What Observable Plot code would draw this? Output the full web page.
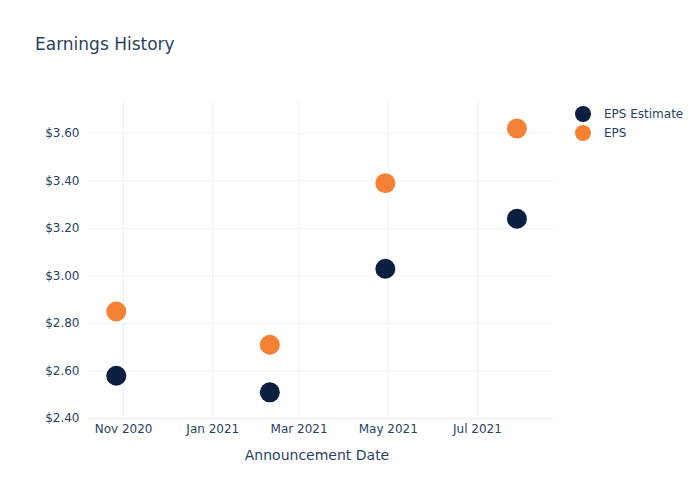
<!DOCTYPE html>
<html>
<head>
<meta charset="utf-8">
<script src="https://cdn.jsdelivr.net/npm/d3@7"></script>
<script src="https://cdn.jsdelivr.net/npm/@observablehq/plot@0.6"></script>
<style>
  html, body { margin: 0; padding: 0; background: #fff; }
  #wrap { position: relative; width: 700px; height: 500px; font-family: "DejaVu Sans", sans-serif; color: #2a3f5f; }
  #title { position: absolute; left: 35px; top: 33px; font-size: 17px; line-height: 22px; white-space: nowrap; }
  .leg { position: absolute; left: 575px; height: 16px; display: flex; align-items: center; font-size: 12px; white-space: nowrap; }
  .leg .sw { width: 16px; height: 16px; border-radius: 50%; margin-right: 13px; }
  #chart { position: absolute; left: 0; top: 0; }
</style>
</head>
<body>
<div id="wrap">
  <div id="chart"></div>
  <div id="title">Earnings History</div>
  <div id="legend"></div>
</div>
<script>
const announcementDates = ["2020-10-27", "2021-02-09", "2021-04-29", "2021-07-28"];
const epsEstimate = [2.58, 2.51, 3.03, 3.24];
const epsActual = [2.85, 2.71, 3.39, 3.62];
const seriesNames = ["EPS Estimate", "EPS"];
const seriesColors = ["#0b1f41", "#f58134"];
const xTickDates = ["2020-11-01", "2021-01-01", "2021-03-01", "2021-05-01", "2021-07-01"];
const yTickValues = [2.4, 2.6, 2.8, 3.0, 3.2, 3.4, 3.6];

const parse = d3.utcParse("%Y-%m-%d");
const xTicks = xTickDates.map(parse);
const rows = [];
announcementDates.forEach((d, i) => {
  rows.push({date: parse(d), value: epsEstimate[i], series: seriesNames[0]});
});
announcementDates.forEach((d, i) => {
  rows.push({date: parse(d), value: epsActual[i], series: seriesNames[1]});
});
const colorOf = Object.fromEntries(seriesNames.map((s, i) => [s, seriesColors[i]]));

const plot = Plot.plot({
  width: 700,
  height: 500,
  marginLeft: 88,
  marginRight: 147,
  marginTop: 100,
  marginBottom: 82,
  style: {fontFamily: "DejaVu Sans, sans-serif", fontSize: "12px", color: "#2a3f5f", background: "transparent"},
  x: {
    type: "utc",
    domain: [parse("2020-10-08"), parse("2021-08-22")],
    label: null
  },
  y: {
    domain: [2.4, 3.7376],
    label: null
  },
  marks: [
    Plot.gridX(xTicks, {stroke: "#ebf0f8", strokeOpacity: 1, strokeWidth: 1}),
    Plot.gridY(yTickValues, {stroke: "#ebf0f8", strokeOpacity: 1, strokeWidth: 1}),
    Plot.axisX({ticks: xTicks, tickFormat: d3.utcFormat("%b %Y"), tickSize: 0, tickPadding: 6, label: null, fontSize: 12}),
    Plot.axisY({ticks: yTickValues, tickFormat: d => "$" + d.toFixed(2), tickSize: 0, tickPadding: 9, label: null, fontSize: 12}),
    Plot.text(["Announcement Date"], {frameAnchor: "bottom", dy: 41, dx: -4, fontSize: 14, fill: "#2a3f5f"}),
    Plot.dot(rows, {x: "date", y: "value", r: 10, fill: d => colorOf[d.series], stroke: null})
  ]
});
document.getElementById("chart").appendChild(plot);

const legend = document.getElementById("legend");
seriesNames.forEach((s, i) => {
  const item = document.createElement("div");
  item.className = "leg";
  item.style.top = (106 + i * 19) + "px";
  const sw = document.createElement("span");
  sw.className = "sw";
  sw.style.background = seriesColors[i];
  item.appendChild(sw);
  item.appendChild(document.createTextNode(s));
  legend.appendChild(item);
});
</script>
</body>
</html>
